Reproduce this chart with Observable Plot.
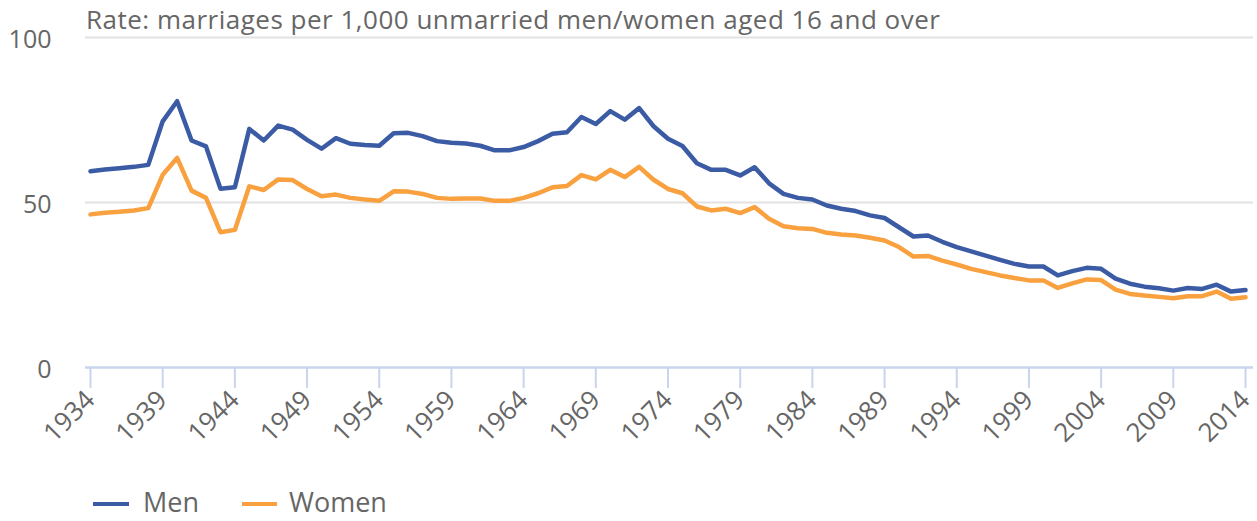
<!DOCTYPE html>
<html>
<head>
<meta charset="utf-8">
<script src="https://cdn.jsdelivr.net/npm/d3@7"></script>
<script src="https://cdn.jsdelivr.net/npm/@observablehq/plot@0.6"></script>
<style>
  html, body { margin: 0; padding: 0; background: #fff; }
  body { width: 1257px; height: 521px; overflow: hidden; font-family: "Open Sans", sans-serif; color: #666; }
  #title { position: relative; height: 37px; }
  #title span { position: absolute; left: 86px; top: 6px; font-size: 26px; line-height: 26px; letter-spacing: 0.5px; white-space: nowrap; color: #666; }
  #legend { position: relative; height: 47px; }
  .sw { position: absolute; top: 28px; height: 4px; }
  .lt { position: absolute; top: 15px; font-size: 27px; line-height: 26px; color: #666; }
</style>
</head>
<body>
<div id="title"><span>Rate: marriages per 1,000 unmarried men/women aged 16 and over</span></div>
<div id="chart"></div>
<div id="legend"></div>
<script>
const firstYear = 1934;
const lastYear = 2014;
const years = d3.range(firstYear, lastYear + 1);
const tickYears = [1934, 1939, 1944, 1949, 1954, 1959, 1964, 1969, 1974, 1979, 1984, 1989, 1994, 1999, 2004, 2009, 2014];
const yTicks = [0, 50, 100];
const seriesNames = ["Men", "Women"];
const seriesColors = ["#3B5BA5", "#F9A03F"];

const men = [
  59.5, 60.0, 60.4, 60.8, 61.4, 74.6, 80.7, 68.8, 67.0, 54.2,
  54.6, 72.3, 68.8, 73.3, 72.1, 69.0, 66.3, 69.5, 67.8, 67.4,
  67.2, 71.0, 71.1, 70.1, 68.6, 68.1, 67.9, 67.2, 65.8, 65.8,
  66.8, 68.6, 70.8, 71.3, 75.9, 73.8, 77.7, 75.1, 78.6, 73.1,
  69.3, 67.1, 61.9, 59.9, 59.9, 58.2, 60.7, 55.8, 52.6, 51.4,
  50.9, 49.1, 48.1, 47.4, 46.1, 45.3, 42.5, 39.7, 40.0, 38.1,
  36.5, 35.2, 33.9, 32.6, 31.4, 30.6, 30.6, 27.9, 29.2, 30.2,
  29.9, 26.9, 25.4, 24.5, 24.0, 23.3, 24.1, 23.8, 25.1, 23.0,
  23.5
];
const women = [
  46.4, 46.9, 47.2, 47.6, 48.3, 58.4, 63.5, 53.6, 51.4, 41.0,
  41.7, 54.9, 53.8, 57.0, 56.8, 54.1, 51.9, 52.4, 51.4, 50.9,
  50.5, 53.4, 53.3, 52.6, 51.4, 51.1, 51.2, 51.2, 50.5, 50.5,
  51.4, 52.8, 54.6, 55.0, 58.3, 57.0, 59.9, 57.7, 60.8, 56.9,
  54.1, 52.8, 48.8, 47.6, 48.1, 46.8, 48.6, 45.1, 42.8, 42.2,
  42.0, 40.8, 40.3, 40.0, 39.3, 38.5, 36.5, 33.6, 33.8, 32.4,
  31.2, 29.9, 28.9, 27.9, 27.1, 26.4, 26.4, 24.1, 25.5, 26.7,
  26.5, 23.6, 22.3, 21.8, 21.4, 21.0, 21.6, 21.6, 23.0, 20.8,
  21.3
];

const data = years.flatMap((yr, i) => [
  {year: yr, rate: men[i], series: "Men"},
  {year: yr, rate: women[i], series: "Women"}
]);

const chart = Plot.plot({
  width: 1257,
  height: 437,
  marginTop: 0,
  marginBottom: 107,
  marginLeft: 85,
  marginRight: 4,
  style: {
    fontFamily: "Open Sans, sans-serif",
    fontSize: "24px",
    color: "#666",
    background: "transparent",
    overflow: "visible"
  },
  x: {domain: [firstYear, lastYear], insetLeft: 5, insetRight: 8},
  y: {domain: [0, 100]},
  color: {domain: seriesNames, range: seriesColors},
  marks: [
    Plot.ruleY(yTicks.filter(d => d > 0), {stroke: "#e2e2e2", strokeWidth: 2}),
    Plot.axisY({ticks: yTicks, tickSize: 0, tickPadding: 34, fill: "#666", fontSize: 25, dy: 2, label: null}),
    Plot.axisX({
      ticks: tickYears,
      tickFormat: d => String(d),
      tickSize: 21,
      tickRotate: -45,
      tickPadding: 7,
      stroke: "#c9d5ec",
      strokeWidth: 2,
      fill: "#666",
      fontSize: 26,
      label: null
    }),
    Plot.ruleY([0], {stroke: "#c9d5ec", strokeWidth: 2.5}),
    Plot.line(data, {x: "year", y: "rate", z: "series", stroke: "series", strokeWidth: 4.5, strokeLinejoin: "round"})
  ]
});
document.getElementById("chart").appendChild(chart);

const legend = document.getElementById("legend");
const legendPos = [{sw: 93, w: 36, tx: 143}, {sw: 242, w: 35, tx: 289}];
seriesNames.forEach((name, i) => {
  const s = document.createElement("div");
  s.className = "sw";
  s.style.left = legendPos[i].sw + "px";
  s.style.width = legendPos[i].w + "px";
  s.style.background = seriesColors[i];
  legend.appendChild(s);
  const t = document.createElement("div");
  t.className = "lt";
  t.style.left = legendPos[i].tx + "px";
  t.textContent = name;
  legend.appendChild(t);
});
</script>
</body>
</html>
